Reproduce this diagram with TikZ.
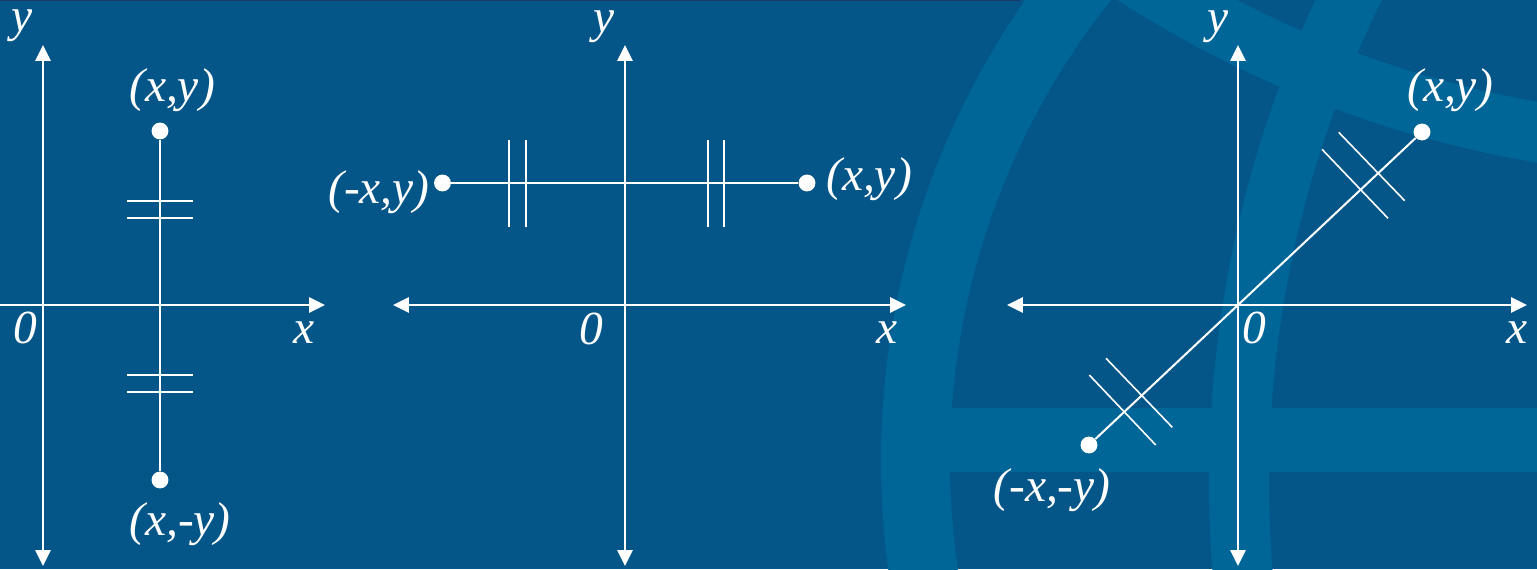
\documentclass[tikz,border=0pt]{standalone}
\usepackage{fontspec}
\setmainfont{Liberation Serif}
\usepackage{tikz}
\usetikzlibrary{arrows.meta,calc}
\definecolor{figback}{RGB}{4,86,137}
\definecolor{figband}{RGB}{0,101,151}
\definecolor{figrule}{RGB}{32,58,104}
\definecolor{figline}{RGB}{255,255,255}
\tikzset{
  ax/.style  ={draw=figline, line width=1.45pt},
  seg/.style ={draw=figline, line width=1.4pt},
  sega/.style={draw=figline, line width=1.15pt},
  tk/.style  ={draw=figline, line width=0.9pt},
  pt/.style  ={circle, fill=figline, inner sep=0pt, minimum size=9.6pt},
  lab/.style ={text=figline, font=\fontsize{27}{32}\selectfont\itshape, inner sep=0pt},
}
\begin{document}
\begin{tikzpicture}[x=0.02cm,y=0.02cm,>={Triangle[length=9pt,width=8.5pt]}]
  \useasboundingbox (0,0) rectangle (1537,569);
  \fill[figback] (0,0) rectangle (1537,569);
  \draw[figrule,line width=0.6pt] (0,568.6) -- (1020,568.6);
  \begin{scope}
    \clip (0,0) rectangle (1537,569);
    \fill[figband,even odd rule] (1690,108) circle (809) (1690,108) circle (740);
    \clip (1690,108) circle (809);
    \fill[figband,even odd rule] (1723,1509) circle (1118) (1723,1509) circle (1058);
    \fill[figband,even odd rule] (2351,87) circle (1142) (2351,87) circle (1082);
    \fill[figband] (900,97) rectangle (1537,161);
  \end{scope}

  \coordinate (o1l) at (0,264);
  \coordinate (o1r) at (325,264);
  \coordinate (o1b) at (43,3);
  \coordinate (o1t) at (43,524);
  \draw[ax,->] (o1l) -- (o1r);
  \draw[ax,<->] (o1b) -- (o1t);
  \node[lab] (y1) at (22.5,543) {y};
  \node[lab] (z1) at (25,241) {0};
  \node[lab] (x1) at (304,236) {x};
  \node[pt] (d1t) at (160,438) {};
  \node[pt] (d1b) at (160,89) {};
  \draw[seg] (d1t) -- (d1b);
  \foreach \ty in {368,351,194,177}
    \draw[tk] (127,\ty) -- (193,\ty);
  \node[lab] (l1t) at (172,479) {(x,y)};
  \node[lab] (l1b) at (180,45) {(x,-y)};

  \coordinate (o2l) at (393,264);
  \coordinate (o2r) at (906,264);
  \coordinate (o2b) at (625,3);
  \coordinate (o2t) at (625,524);
  \draw[ax,<->] (o2l) -- (o2r);
  \draw[ax,<->] (o2b) -- (o2t);
  \node[lab] (y2) at (604,542) {y};
  \node[lab] (z2) at (591,240) {0};
  \node[lab] (x2) at (887,236) {x};
  \node[pt] (d2l) at (442.5,386) {};
  \node[pt] (d2r) at (807,386) {};
  \draw[seg] (d2l) -- (d2r);
  \foreach \tx in {509,526,708,724}
    \draw[tk] (\tx,342) -- (\tx,429);
  \node[lab] (l2l) at (379,377) {(-x,y)};
  \node[lab] (l2r) at (869,390) {(x,y)};

  \coordinate (o3l) at (1007,264);
  \coordinate (o3r) at (1527,264);
  \coordinate (o3b) at (1238,3);
  \coordinate (o3t) at (1238,524);
  \draw[ax,<->] (o3l) -- (o3r);
  \draw[ax,<->] (o3b) -- (o3t);
  \node[lab] (y3) at (1218,542) {y};
  \node[lab] (z3) at (1254,241) {0};
  \node[lab] (x3) at (1517,236) {x};
  \node[pt] (d3b) at (1089,124) {};
  \node[pt] (d3t) at (1422,437) {};
  \draw[sega] (d3b) -- (d3t);
  \draw[tk] (1089.3,194) -- (1155.7,124);
  \draw[tk] (1106,210.7) -- (1172.3,141.7);
  \draw[tk] (1322,419.7) -- (1388,350.7);
  \draw[tk] (1338.7,436.7) -- (1404.7,368.3);
  \node[lab] (l3t) at (1450,479) {(x,y)};
  \node[lab] (l3b) at (1052,79) {(-x,-y)};
\end{tikzpicture}
\end{document}
